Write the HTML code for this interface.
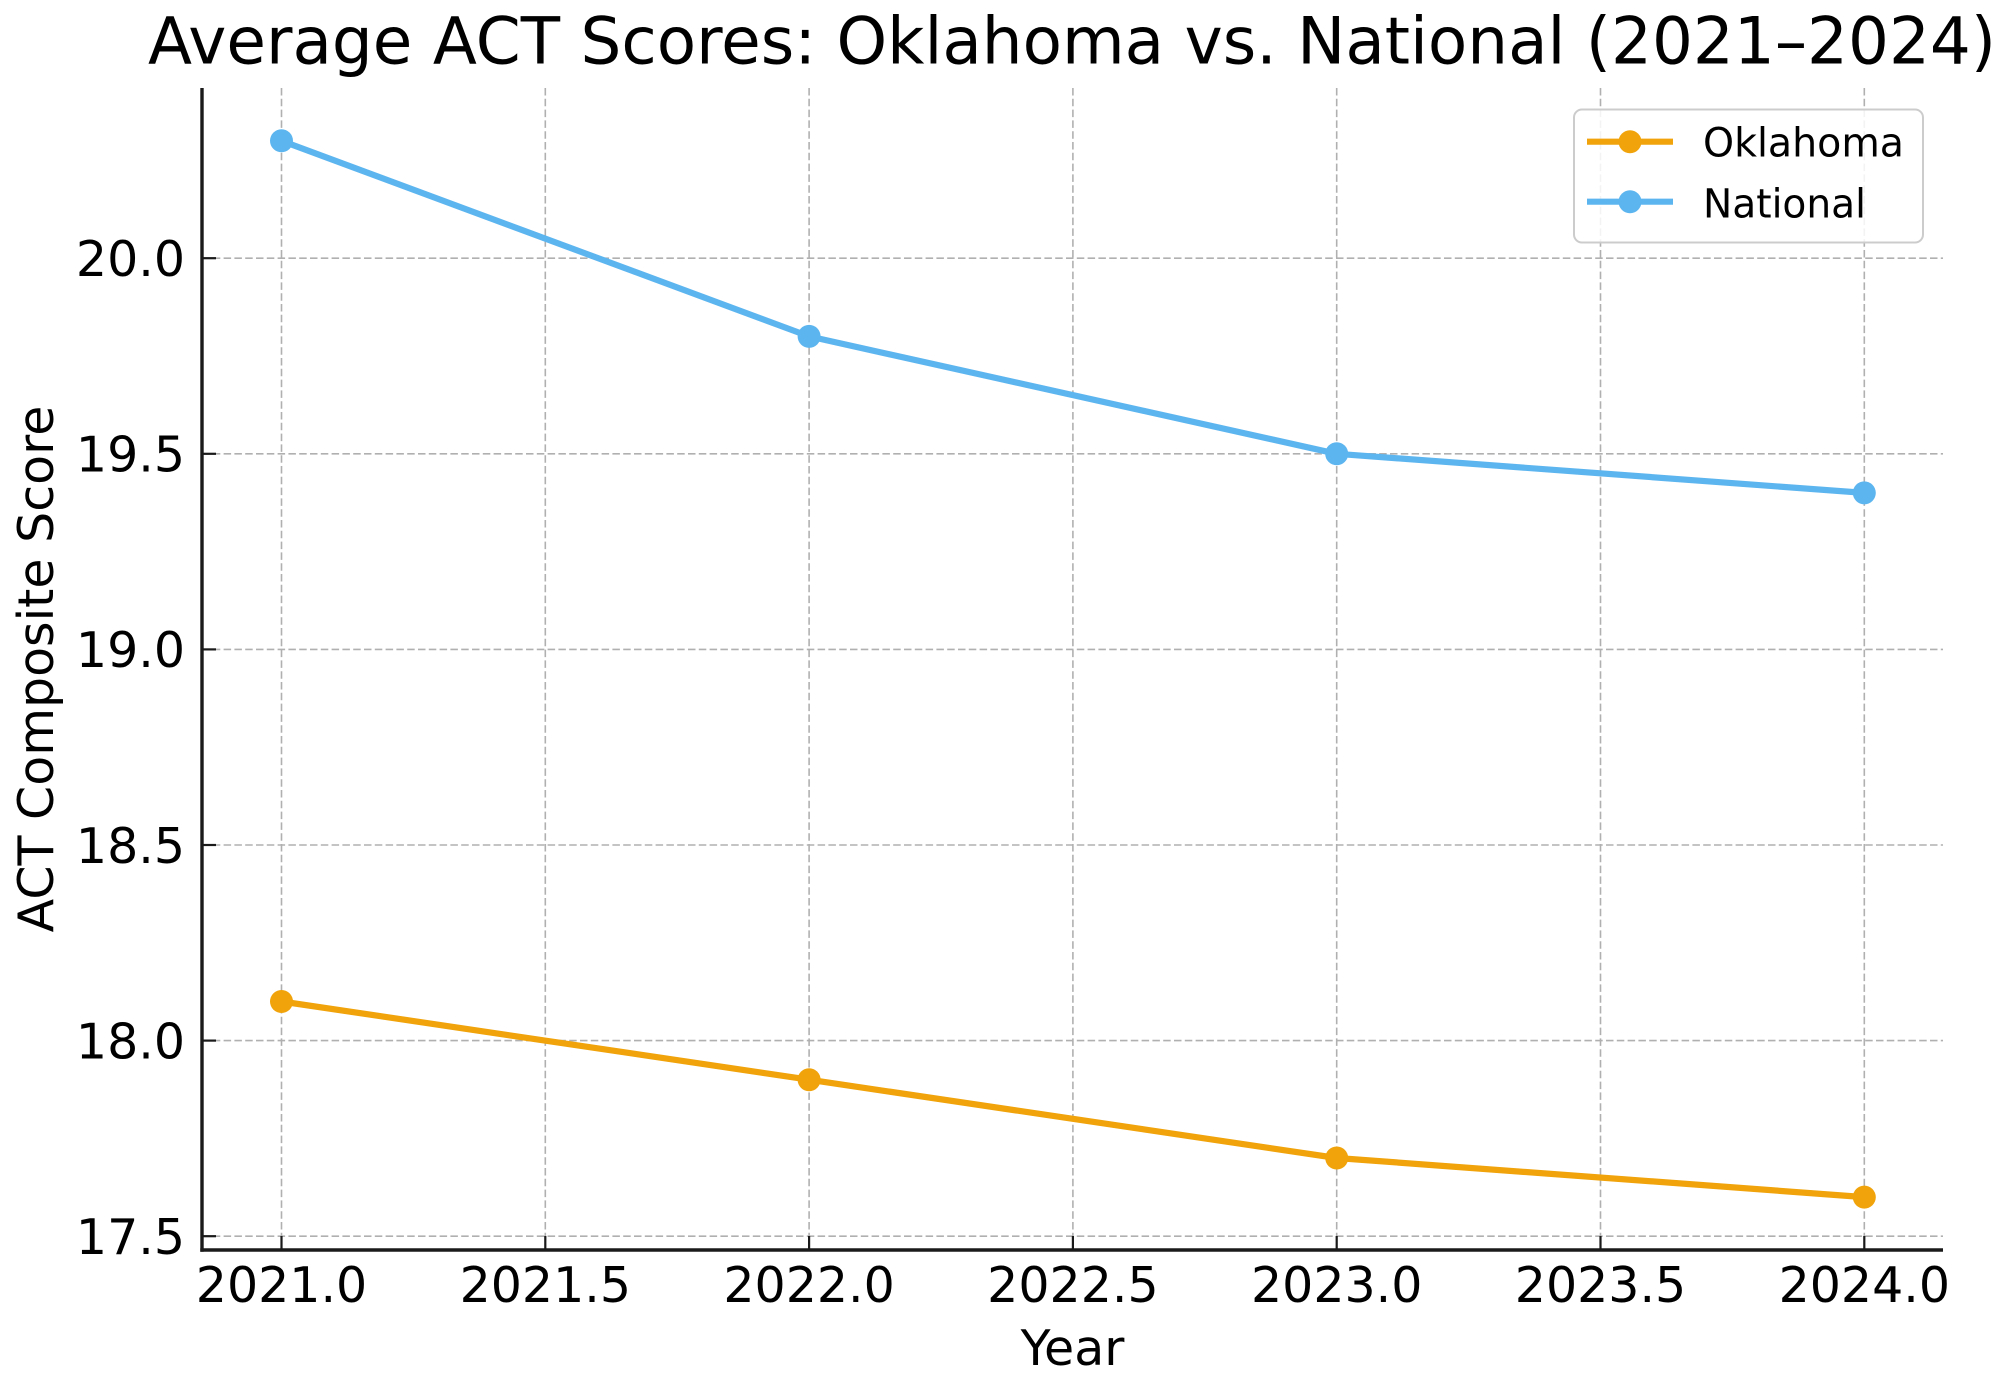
<!DOCTYPE html>
<html>
<head>
<meta charset="utf-8">
<style>
  html, body { margin:0; padding:0; background:#ffffff; }
  svg { display:block; }
  text { font-family: "DejaVu Sans", "Liberation Sans", sans-serif; fill:#000; }
</style>
</head>
<body>
<svg width="2000" height="1386" viewBox="0 0 2000 1386" xmlns="http://www.w3.org/2000/svg">
  <rect x="0" y="0" width="2000" height="1386" fill="#ffffff"/>

  <!-- Title -->
  <text x="1072" y="63.5" font-size="65" text-anchor="middle" textLength="1848" lengthAdjust="spacingAndGlyphs">Average ACT Scores: Oklahoma vs. National (2021–2024)</text>

  <!-- Grid lines -->
  <g stroke="#b0b0b0" stroke-width="1.6" stroke-dasharray="7.5 3.3" fill="none">
    <line x1="202" y1="258.2" x2="1943" y2="258.2"/>
    <line x1="202" y1="453.8" x2="1943" y2="453.8"/>
    <line x1="202" y1="649.4" x2="1943" y2="649.4"/>
    <line x1="202" y1="845" x2="1943" y2="845"/>
    <line x1="202" y1="1040.6" x2="1943" y2="1040.6"/>
    <line x1="202" y1="1236.2" x2="1943" y2="1236.2"/>
    <line x1="281.5" y1="88" x2="281.5" y2="1250"/>
    <line x1="545.3" y1="88" x2="545.3" y2="1250"/>
    <line x1="809.1" y1="88" x2="809.1" y2="1250"/>
    <line x1="1072.9" y1="88" x2="1072.9" y2="1250"/>
    <line x1="1336.7" y1="88" x2="1336.7" y2="1250"/>
    <line x1="1600.5" y1="88" x2="1600.5" y2="1250"/>
    <line x1="1864.3" y1="88" x2="1864.3" y2="1250"/>
  </g>

  <!-- Oklahoma series -->
  <polyline points="281.5,1001.5 809.1,1079.7 1336.7,1158 1864.3,1197.1" fill="none" stroke="#F0A30A" stroke-width="6.2" stroke-linejoin="round" stroke-linecap="round"/>
  <g fill="#F0A30A">
    <circle cx="281.5" cy="1001.5" r="11.5"/>
    <circle cx="809.1" cy="1079.7" r="11.5"/>
    <circle cx="1336.7" cy="1158" r="11.5"/>
    <circle cx="1864.3" cy="1197.1" r="11.5"/>
  </g>

  <!-- National series -->
  <polyline points="281.5,140.8 809.1,336.4 1336.7,453.8 1864.3,492.9" fill="none" stroke="#5DB5EF" stroke-width="6.2" stroke-linejoin="round" stroke-linecap="round"/>
  <g fill="#5DB5EF">
    <circle cx="281.5" cy="140.8" r="11.5"/>
    <circle cx="809.1" cy="336.4" r="11.5"/>
    <circle cx="1336.7" cy="453.8" r="11.5"/>
    <circle cx="1864.3" cy="492.9" r="11.5"/>
  </g>

  <!-- Spines -->
  <g stroke="#1a1a1a" stroke-width="3.4" fill="none">
    <line x1="202" y1="88" x2="202" y2="1251.7"/>
    <line x1="200.3" y1="1250" x2="1943" y2="1250"/>
  </g>

  <!-- Ticks (inward) -->
  <g stroke="#1a1a1a" stroke-width="2.2">
    <line x1="202" y1="258.2" x2="216" y2="258.2"/>
    <line x1="202" y1="453.8" x2="216" y2="453.8"/>
    <line x1="202" y1="649.4" x2="216" y2="649.4"/>
    <line x1="202" y1="845" x2="216" y2="845"/>
    <line x1="202" y1="1040.6" x2="216" y2="1040.6"/>
    <line x1="202" y1="1236.2" x2="216" y2="1236.2"/>

    <line x1="281.5" y1="1250" x2="281.5" y2="1236"/>
    <line x1="545.3" y1="1250" x2="545.3" y2="1236"/>
    <line x1="809.1" y1="1250" x2="809.1" y2="1236"/>
    <line x1="1072.9" y1="1250" x2="1072.9" y2="1236"/>
    <line x1="1336.7" y1="1250" x2="1336.7" y2="1236"/>
    <line x1="1600.5" y1="1250" x2="1600.5" y2="1236"/>
    <line x1="1864.3" y1="1250" x2="1864.3" y2="1236"/>
  </g>

  <!-- Y tick labels -->
  <g font-size="49" text-anchor="end">
    <text x="185" y="276">20.0</text>
    <text x="185" y="471.6">19.5</text>
    <text x="185" y="667.2">19.0</text>
    <text x="185" y="862.8">18.5</text>
    <text x="185" y="1058.4">18.0</text>
    <text x="185" y="1254">17.5</text>
  </g>

  <!-- X tick labels -->
  <g font-size="49" text-anchor="middle">
    <text x="281.5" y="1302">2021.0</text>
    <text x="545.3" y="1302">2021.5</text>
    <text x="809.1" y="1302">2022.0</text>
    <text x="1072.9" y="1302">2022.5</text>
    <text x="1336.7" y="1302">2023.0</text>
    <text x="1600.5" y="1302">2023.5</text>
    <text x="1864.3" y="1302">2024.0</text>
  </g>

  <!-- Axis labels -->
  <text x="1072.5" y="1365" font-size="49" text-anchor="middle">Year</text>
  <text x="0" y="0" font-size="49" text-anchor="middle" transform="translate(53,669) rotate(-90)">ACT Composite Score</text>

  <!-- Legend -->
  <rect x="1574" y="109.5" width="349" height="133" rx="8" ry="8" fill="#ffffff" fill-opacity="0.85" stroke="#cccccc" stroke-width="2"/>
  <line x1="1587" y1="141.7" x2="1673" y2="141.7" stroke="#F0A30A" stroke-width="6.2"/>
  <circle cx="1630" cy="141.7" r="11.5" fill="#F0A30A"/>
  <line x1="1587" y1="201.7" x2="1673" y2="201.7" stroke="#5DB5EF" stroke-width="6.2"/>
  <circle cx="1630" cy="201.7" r="11.5" fill="#5DB5EF"/>
  <text x="1703" y="156.7" font-size="40.5" textLength="201" lengthAdjust="spacingAndGlyphs">Oklahoma</text>
  <text x="1703" y="217.3" font-size="40.5" textLength="163" lengthAdjust="spacingAndGlyphs">National</text>
</svg>
</body>
</html>
